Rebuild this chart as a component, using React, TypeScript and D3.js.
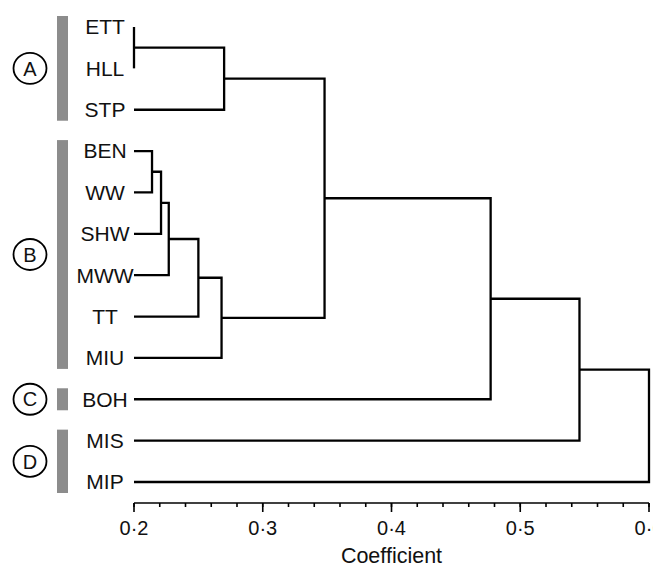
import React from 'react';
import { scaleLinear, scalePoint, hierarchy, range } from 'd3';

// leaves top to bottom
const leaves = ['ETT', 'HLL', 'STP', 'BEN', 'WW', 'SHW', 'MWW', 'TT', 'MIU', 'BOH', 'MIS', 'MIP'];

// agglomeration steps: [left, right, coefficient]; "m<i>" refers to step i
const merges: [string, string, number][] = [
  ['ETT', 'HLL', 0.2],
  ['m0', 'STP', 0.27],
  ['BEN', 'WW', 0.214],
  ['m2', 'SHW', 0.221],
  ['m3', 'MWW', 0.227],
  ['m4', 'TT', 0.25],
  ['m5', 'MIU', 0.268],
  ['m1', 'm6', 0.348],
  ['m7', 'BOH', 0.477],
  ['m8', 'MIS', 0.546],
  ['m9', 'MIP', 0.6],
];

const groupLabels = ['A', 'B', 'C', 'D'];
const groupFirst = ['ETT', 'BEN', 'BOH', 'MIS'];
const groupLast = ['STP', 'MIU', 'BOH', 'MIP'];

const majorTicks = [0.2, 0.3, 0.4, 0.5, 0.6];
const tickLabels = ['0·2', '0·3', '0·4', '0·5', '0·6'];
const axisTitle = 'Coefficient';

const W = 653;
const H = 567;
const font = '"Liberation Sans", Arial, Helvetica, sans-serif';

type Node = { name: string; height: number; children?: Node[] };

const buildTree = (): Node => {
  const nodes: Record<string, Node> = {};
  leaves.forEach((l) => (nodes[l] = { name: l, height: 0.2 }));
  merges.forEach(([a, b, h], i) => {
    nodes['m' + i] = { name: 'm' + i, height: h, children: [nodes[a], nodes[b]] };
  });
  return nodes['m' + (merges.length - 1)];
};

const App = () => {
  const x = scaleLinear().domain([0.2, 0.6]).range([134, 649]);
  const y = scalePoint<string>().domain(leaves).range([27, 482]);

  const root = hierarchy(buildTree());
  const ypos = new Map<any, number>();
  root.eachAfter((n: any) => {
    if (!n.children) ypos.set(n, y(n.data.name) as number);
    else ypos.set(n, (ypos.get(n.children[0])! + ypos.get(n.children[1])!) / 2);
  });

  const segs: string[] = [];
  root.each((n: any) => {
    if (!n.children) return;
    const px = x(n.data.height);
    const y0 = ypos.get(n.children[0])!;
    const y1 = ypos.get(n.children[1])!;
    segs.push(`M${x(n.children[0].data.height)},${y0}H${px}V${y1}H${x(n.children[1].data.height)}`);
  });

  const minorTicks = range(0.2, 0.6001, 0.02);
  const axisY = 503;

  return (
    <svg width={W} height={H} style={{ position: 'absolute', left: 0, top: 0, background: '#fff' }}>
      <g fill="none" stroke="#000" strokeWidth={2.3} strokeLinejoin="miter">
        {segs.map((d, i) => (
          <path key={i} d={d} />
        ))}
      </g>

      <g fontFamily={font} fontSize={21} textAnchor="middle" fill="#111">
        {leaves.map((l) => (
          <text key={l} x={105} y={y(l)} dy="0.35em">
            {l}
          </text>
        ))}
      </g>

      {groupLabels.map((g, i) => {
        const top = (y(groupFirst[i]) as number) - 11;
        const bot = (y(groupLast[i]) as number) + 11;
        const cy = (top + bot) / 2;
        return (
          <g key={g}>
            <rect x={57} y={top} width={11} height={bot - top} fill="#8c8c8c" />
            <ellipse cx={30} cy={cy} rx={16.5} ry={15.5} fill="#fff" stroke="#000" strokeWidth={1.8} />
            <text x={30} y={cy} dy="0.36em" textAnchor="middle" fontFamily={font} fontSize={20} fill="#111">
              {g}
            </text>
          </g>
        );
      })}

      <g stroke="#000" strokeWidth={1.6}>
        <line x1={x(0.2)} x2={x(0.6)} y1={axisY} y2={axisY} />
        {minorTicks.map((t, i) => (
          <line key={i} x1={x(t)} x2={x(t)} y1={axisY} y2={axisY + 4} />
        ))}
        {majorTicks.map((t) => (
          <line key={t} x1={x(t)} x2={x(t)} y1={axisY} y2={axisY + 9} />
        ))}
      </g>
      <g fontFamily={font} fontSize={20} textAnchor="middle" fill="#111">
        {majorTicks.map((t, i) => (
          <text key={t} x={x(t)} y={535}>
            {tickLabels[i]}
          </text>
        ))}
        <text x={x(0.4)} y={563} fontSize={21.5}>
          {axisTitle}
        </text>
      </g>
    </svg>
  );
};

export default App;
